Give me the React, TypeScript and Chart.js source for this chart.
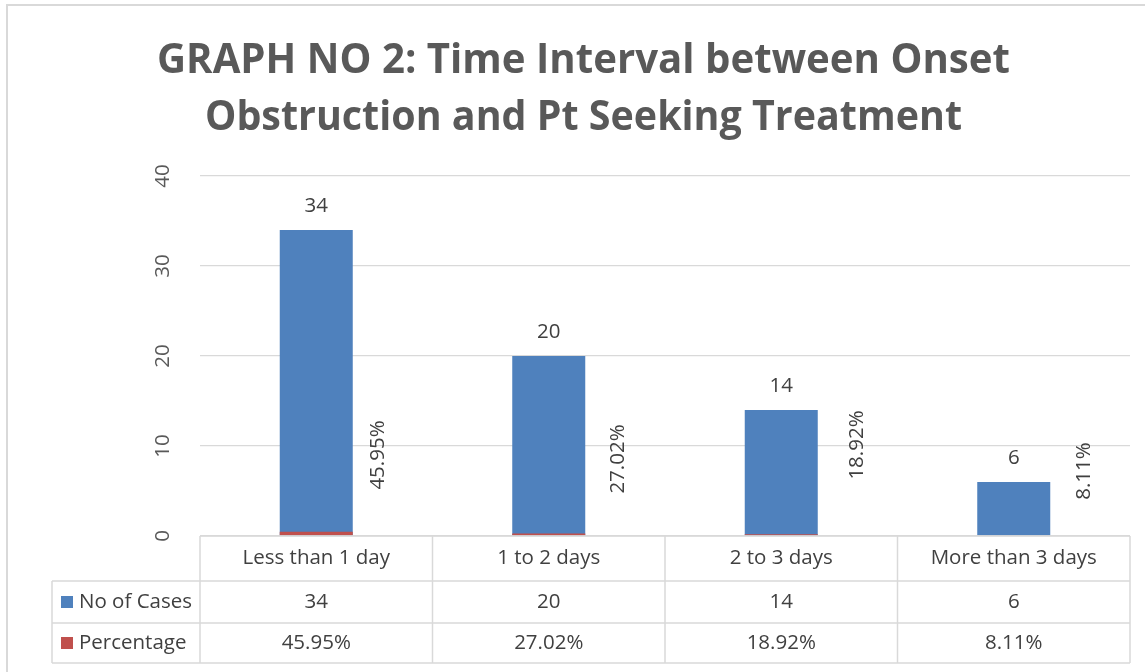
import { useEffect, useRef } from 'react';
import { Chart, registerables } from 'chart.js';

Chart.register(...registerables);

const titleLines = ['GRAPH NO 2: Time Interval between Onset', 'Obstruction and Pt Seeking Treatment'];
const categories = ['Less than 1 day', '1 to 2 days', '2 to 3 days', 'More than 3 days'];
const seriesNames = ['No of Cases', 'Percentage'];
const cases = [34, 20, 14, 6];
const percentages = [45.95, 27.02, 18.92, 8.11];
const yTicks = [0, 10, 20, 30, 40];

const BLUE = '#4F81BD';
const RED = '#C0504D';
const GRID = '#d9d9d9';
const TEXT = '#404040';
const FONT = '"Open Sans", "Noto Sans", sans-serif';
const FS = 20.5;

const pctFmt = (v: number) => v.toFixed(2) + '%';

// label layout (pixel offsets from category centre / plot bottom)
const pctLabelDx = [62, 69, 76, 70];
const pctLabelDy = [81, 77, 91, 65];

const drawPlugin = {
  id: 'excelDecor',
  afterDraw(chart: any) {
    const ctx: CanvasRenderingContext2D = chart.ctx;
    const area = chart.chartArea;
    const xs = chart.scales.x;
    const ys = chart.scales.y;
    const n = categories.length;
    const catW = (area.right - area.left) / n;
    ctx.save();

    // outer frame
    ctx.strokeStyle = GRID;
    ctx.lineWidth = 2;
    ctx.beginPath();
    ctx.moveTo(7, 700);
    ctx.lineTo(7, 5);
    ctx.lineTo(1200, 5);
    ctx.stroke();

    // title
    ctx.fillStyle = '#595959';
    ctx.textAlign = 'center';
    ctx.textBaseline = 'alphabetic';
    const titleBaselines = [73, 130];
    titleLines.forEach((t, i) => {
      ctx.font = `bold 38px ${FONT}`;
      const w = ctx.measureText(t).width;
      const target = i === 0 ? 853 : 757;
      ctx.save();
      ctx.translate(583.5, titleBaselines[i]);
      ctx.scale(target / w, 1.1);
      ctx.fillText(t, 0, 0);
      ctx.restore();
    });

    // y tick labels (rotated)
    ctx.fillStyle = '#595959';
    ctx.font = `${FS}px ${FONT}`;
    ctx.textAlign = 'center';
    ctx.textBaseline = 'middle';
    yTicks.forEach((v) => {
      ctx.save();
      ctx.translate(163, ys.getPixelForValue(v));
      ctx.rotate(-Math.PI / 2);
      ctx.fillText(String(v), 0, 0);
      ctx.restore();
    });

    // data labels
    ctx.fillStyle = TEXT;
    ctx.font = `${FS}px ${FONT}`;
    const blueMeta = chart.getDatasetMeta(1);
    blueMeta.data.forEach((bar: any, i: number) => {
      ctx.textAlign = 'center';
      ctx.textBaseline = 'alphabetic';
      ctx.fillText(String(cases[i]), bar.x, bar.y - 18);
    });
    percentages.forEach((p, i) => {
      const cx = xs.getPixelForValue(i) + pctLabelDx[i];
      const cy = area.bottom - pctLabelDy[i];
      ctx.save();
      ctx.translate(cx, cy);
      ctx.rotate(-Math.PI / 2);
      ctx.textAlign = 'center';
      ctx.textBaseline = 'middle';
      ctx.fillText(pctFmt(p), 0, 0);
      ctx.restore();
    });

    // data table
    const top = area.bottom;
    const r1 = top + 45;
    const r2 = r1 + 42;
    const r3 = r2 + 40;
    const leftCol = 52;
    ctx.strokeStyle = GRID;
    ctx.lineWidth = 1.5;
    ctx.beginPath();
    ctx.moveTo(area.left, top); ctx.lineTo(area.right, top);
    [r1, r2, r3].forEach((y) => { ctx.moveTo(leftCol, y); ctx.lineTo(area.right, y); });
    ctx.moveTo(leftCol, r1); ctx.lineTo(leftCol, r3);
    for (let i = 0; i <= n; i++) {
      const x = area.left + i * catW;
      ctx.moveTo(x, top); ctx.lineTo(x, r3);
    }
    ctx.stroke();

    ctx.fillStyle = TEXT;
    ctx.font = `${FS}px ${FONT}`;
    ctx.textAlign = 'center';
    ctx.textBaseline = 'middle';
    categories.forEach((c, i) => {
      const cx = area.left + (i + 0.5) * catW;
      ctx.fillText(c, cx, (top + r1) / 2);
      ctx.fillText(String(cases[i]), cx, (r1 + r2) / 2);
      ctx.fillText(pctFmt(percentages[i]), cx, (r2 + r3) / 2);
    });
    // row headers with legend keys
    const keyColors = [BLUE, RED];
    const rowMids = [(r1 + r2) / 2, (r2 + r3) / 2];
    seriesNames.forEach((s, i) => {
      ctx.fillStyle = keyColors[i];
      ctx.fillRect(61, rowMids[i] - 6, 12, 12);
      ctx.fillStyle = TEXT;
      ctx.textAlign = 'left';
      ctx.fillText(s, 79, rowMids[i]);
    });
    ctx.restore();
  },
};

export default function App() {
  const ref = useRef<HTMLCanvasElement>(null);
  useEffect(() => {
    if (!ref.current) return;
    const chart = new Chart(ref.current, {
      type: 'bar',
      data: {
        labels: categories,
        datasets: [
          {
            label: seriesNames[1],
            data: percentages.map((p) => p / 100),
            backgroundColor: RED,
            barPercentage: 0.314,
            categoryPercentage: 1,
          },
          {
            label: seriesNames[0],
            data: cases,
            backgroundColor: BLUE,
            barPercentage: 0.314,
            categoryPercentage: 1,
          },
        ],
      },
      options: {
        responsive: false,
        animation: false,
        devicePixelRatio: 1,
        layout: { padding: { left: 200, top: 176, right: 15, bottom: 136 } },
        plugins: {
          legend: { display: false },
          title: { display: false },
          tooltip: { enabled: false },
        },
        scales: {
          x: { display: false, stacked: true },
          y: {
            stacked: false,
            min: 0,
            max: 40,
            ticks: { display: false, stepSize: 10 },
            grid: { color: GRID, lineWidth: 1.3, drawTicks: false },
            border: { display: false },
          },
        },
      },
      plugins: [drawPlugin],
    });
    return () => chart.destroy();
  }, []);
  return (
    <div style={{ position: 'absolute', left: 0, top: 0, width: 1145, height: 672, background: '#fff' }}>
      <canvas ref={ref} width={1145} height={672} />
    </div>
  );
}
